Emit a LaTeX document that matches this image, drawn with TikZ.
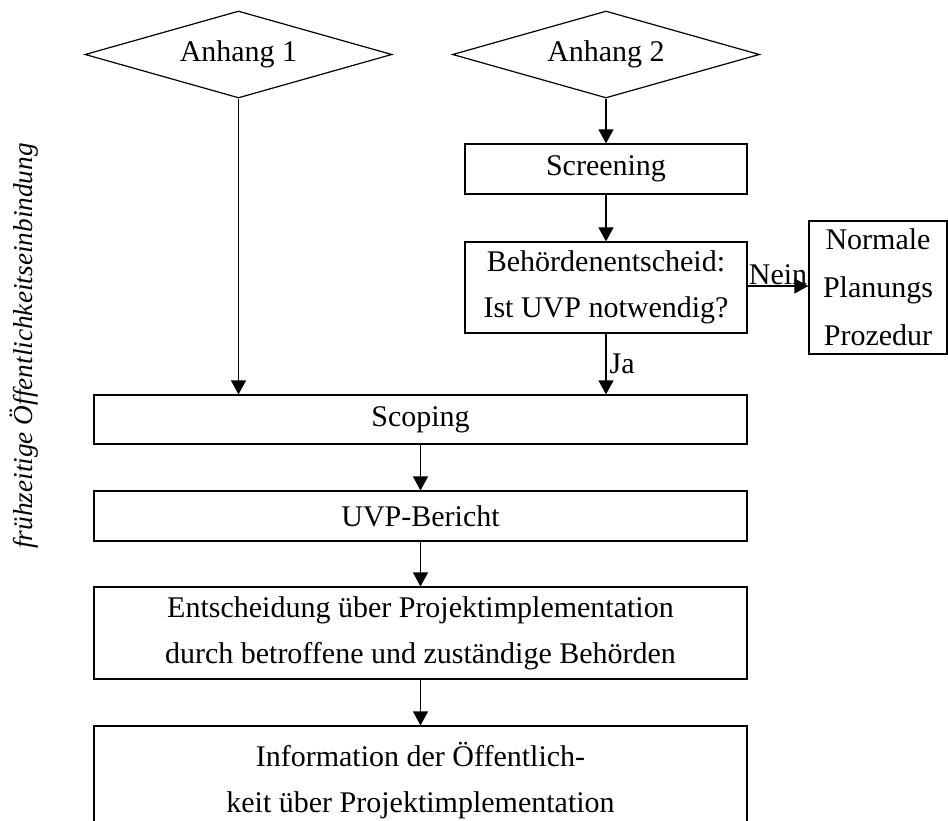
\documentclass[tikz,border=0pt]{standalone}
\IfFileExists{pplr8t.tfm}{%
  \usepackage[T1]{fontenc}
  \renewcommand\rmdefault{ppl}
  \newcommand\mysize{\fontsize{27}{46}\selectfont}
  \newcommand\sidesize{\fontsize{27}{46}\selectfont}
}{%
  \usepackage{fontspec}
  \setmainfont{Liberation Serif}
  \newcommand\mysize{\fontsize{30}{46}\selectfont}
  \newcommand\sidesize{\fontsize{27.3}{46}\selectfont}
}
\usetikzlibrary{shapes.geometric,arrows.meta}
\begin{document}
\begin{tikzpicture}[x=1pt,y=-1pt,
  every node/.style={font=\mysize},
  ln/.style={line width=1.2pt},
  arr/.style={ln,-{Triangle[width=15pt,length=14pt]}},
  rhomb/.style={draw,ln,shape=diamond,aspect=3.53,minimum width=307pt,minimum height=87pt,inner sep=3pt},
  box/.style={draw,ln,rectangle,align=center,inner sep=0pt}]
\useasboundingbox (0,0) rectangle (948,821);
\node[rhomb] (d1) at (238.5,54.5) {Anhang 1};
\node[rhomb] (d2) at (606,54.5) {Anhang 2};
\node[box,minimum width=282pt,minimum height=50pt] (screen) at (606,169) {Screening};
\node[box,minimum width=282pt,minimum height=91pt] (beh) at (606,287.5) {Beh\"ordenentscheid:\\Ist UVP notwendig?};
\node[box,minimum width=138pt,minimum height=133pt] (norm) at (878,287.5) {Normale\\[2pt]Planungs\\[2pt]Prozedur};
\node[box,minimum width=653pt,minimum height=49pt] (scoping) at (420.5,419.5) {Scoping};
\node[box,minimum width=653pt,minimum height=50pt] (uvp) at (420.5,516) {UVP-Bericht};
\node[box,minimum width=653pt,minimum height=92pt] (ents) at (420.5,633) {Entscheidung \"uber Projektimplementation\\durch betroffene und zust\"andige Beh\"orden};
\node[box,minimum width=653pt,minimum height=110pt] (info) at (420.5,781) {Information der \"Offentlich-\\keit \"uber Projektimplementation};
\node[rotate=90,font=\sidesize\itshape] (side) at (24,346) {fr\"uhzeitige \"Offentlichkeitseinbindung};
\draw[arr] (d1.south) -- (d1.south |- scoping.north);
\draw[arr] (d2.south) -- (screen.north);
\draw[arr] (screen.south) -- (beh.north);
\draw[arr] ([yshift=1.5pt]beh.east) -- node[above,inner sep=1pt] (nein) {Nein} ([yshift=1.5pt]beh.east -| norm.west);
\draw[arr] (beh.south) -- node[right,inner sep=3pt] (ja) {Ja} (beh.south |- scoping.north);
\draw[arr] (scoping.south) -- (uvp.north);
\draw[arr] (uvp.south) -- (ents.north);
\draw[arr] (ents.south) -- (info.north);
\end{tikzpicture}
\end{document}
